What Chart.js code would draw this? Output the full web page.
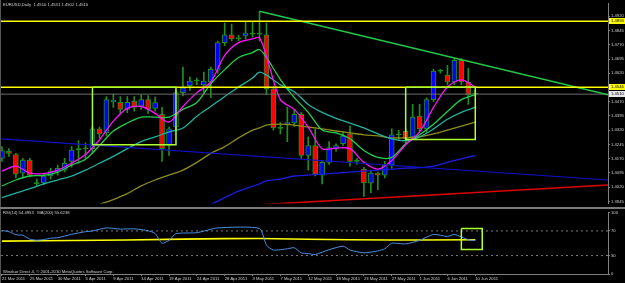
<!DOCTYPE html>
<html>
<head>
<meta charset="utf-8">
<script src="https://cdn.jsdelivr.net/npm/chart.js@4.4.1/dist/chart.umd.min.js"></script>
<style>
  html, body { margin: 0; padding: 0; background: #000; }
  #wrap { position: relative; width: 625px; height: 283px; background: #000; overflow: hidden; }
  #priceBox { position: absolute; left: 0; top: 0; width: 625px; height: 207px; }
  #sep { position: absolute; left: 0; top: 207px; width: 625px; height: 2px; background: #7a7a7a; }
  #rsiBox { position: absolute; left: 0; top: 209px; width: 625px; height: 74px; }
</style>
</head>
<body>
<div id="wrap">
  <div id="priceBox"><canvas id="priceChart"></canvas></div>
  <div id="sep"></div>
  <div id="rsiBox"><canvas id="rsiChart"></canvas></div>
</div>
<script>
// bottom axis labels, one every 4 bars
const tickBars = [0, 4, 8, 12, 16, 20, 24, 28, 32, 36, 40, 44, 48, 52, 56, 60, 64, 68];
const tickLabels = ['21 Mar 2011', '25 Mar 2011', '30 Mar 2011', '5 Apr 2011', '9 Apr 2011', '14 Apr 2011',
  '19 Apr 2011', '24 Apr 2011', '28 Apr 2011', '3 May 2011', '7 May 2011', '12 May 2011', '18 May 2011',
  '23 May 2011', '27 May 2011', '1 Jun 2011', '6 Jun 2011', '10 Jun 2011'];

// daily candles EURUSD
const opens = [1.4172, 1.4209, 1.4192, 1.4094, 1.4163, 1.4041, 1.4043, 1.4079, 1.4100, 1.4110,
  1.4156, 1.4218, 1.4221, 1.4223, 1.4327, 1.4306, 1.4470, 1.4467, 1.4430, 1.4473,
  1.4447, 1.4481, 1.4435, 1.4404, 1.4240, 1.4337, 1.4518, 1.4554, 1.4579, 1.4559,
  1.4574, 1.4636, 1.4781, 1.4822, 1.4801, 1.4817, 1.4828, 1.4826, 1.4822, 1.4538,
  1.4332, 1.4355, 1.4358, 1.4404, 1.4187, 1.4239, 1.4084, 1.4151, 1.4223, 1.4249,
  1.4301, 1.4156, 1.4115, 1.4043, 1.4094, 1.4084, 1.4136, 1.4296, 1.4316, 1.4285,
  1.4394, 1.4327, 1.4481, 1.4631, 1.4610, 1.4574, 1.4688, 1.4574, 1.4510];
const highs = [1.4234, 1.4223, 1.4198, 1.4172, 1.4172, 1.4063, 1.4089, 1.4120, 1.4136, 1.4172,
  1.4234, 1.4265, 1.4254, 1.4342, 1.4337, 1.4497, 1.4510, 1.4497, 1.4497, 1.4497,
  1.4507, 1.4502, 1.4495, 1.4440, 1.4337, 1.4530, 1.4652, 1.4600, 1.4595, 1.4626,
  1.4652, 1.4790, 1.4884, 1.4879, 1.4820, 1.4889, 1.4889, 1.4946, 1.4884, 1.4548,
  1.4360, 1.4440, 1.4430, 1.4414, 1.4285, 1.4327, 1.4160, 1.4260, 1.4249, 1.4311,
  1.4342, 1.4172, 1.4125, 1.4105, 1.4100, 1.4156, 1.4327, 1.4320, 1.4330, 1.4456,
  1.4456, 1.4490, 1.4641, 1.4641, 1.4662, 1.4697, 1.4697, 1.4647, 1.4531];
const lows = [1.4156, 1.4182, 1.4069, 1.4074, 1.4074, 1.4027, 1.4032, 1.4063, 1.4084, 1.4100,
  1.4125, 1.4146, 1.4172, 1.4198, 1.4280, 1.4290, 1.4440, 1.4404, 1.4412, 1.4420,
  1.4430, 1.4409, 1.4420, 1.4156, 1.4187, 1.4320, 1.4500, 1.4530, 1.4560, 1.4518,
  1.4492, 1.4620, 1.4765, 1.4790, 1.4790, 1.4800, 1.4810, 1.4790, 1.4507, 1.4320,
  1.4300, 1.4260, 1.4340, 1.4172, 1.4110, 1.4079, 1.4038, 1.4140, 1.4210, 1.4240,
  1.4131, 1.4140, 1.3971, 1.3991, 1.4007, 1.4069, 1.4120, 1.4270, 1.4255, 1.4270,
  1.4310, 1.4310, 1.4470, 1.4620, 1.4560, 1.4560, 1.4560, 1.4456, 1.4502];
const closes = [1.4213, 1.4198, 1.4089, 1.4163, 1.4084, 1.4039, 1.4079, 1.4105, 1.4120, 1.4146,
  1.4215, 1.4220, 1.4224, 1.4327, 1.4301, 1.4481, 1.4478, 1.4430, 1.4467, 1.4440,
  1.4481, 1.4430, 1.4465, 1.4223, 1.4327, 1.4518, 1.4543, 1.4579, 1.4581, 1.4579,
  1.4641, 1.4781, 1.4822, 1.4801, 1.4803, 1.4832, 1.4826, 1.4829, 1.4538, 1.4332,
  1.4330, 1.4360, 1.4404, 1.4187, 1.4239, 1.4089, 1.4151, 1.4229, 1.4239, 1.4290,
  1.4156, 1.4158, 1.4043, 1.4094, 1.4084, 1.4136, 1.4296, 1.4300, 1.4275, 1.4389,
  1.4327, 1.4481, 1.4631, 1.4633, 1.4574, 1.4688, 1.4574, 1.4507, 1.4510];

// moving averages, read at these bars
const sampleBars = [0, 2, 4, 6, 8, 10, 12, 14, 16, 18, 20, 22, 24, 26, 28, 30, 32, 34, 36, 37,
  38, 40, 42, 44, 46, 48, 50, 52, 54, 56, 58, 60, 62, 64, 66, 68];
const maFast = [1.4105, 1.4131, 1.4094, 1.4092, 1.4110, 1.4146, 1.4192, 1.4270, 1.4368, 1.4435,
  1.4445, 1.4409, 1.4363, 1.4445, 1.4518, 1.4574, 1.4714, 1.4781, 1.4801, 1.4806,
  1.4708, 1.4481, 1.4430, 1.4337, 1.4223, 1.4226, 1.4223, 1.4151, 1.4115, 1.4161,
  1.4244, 1.4311, 1.4440, 1.4548, 1.4585, 1.4548];
const maMid = [1.4027, 1.4058, 1.4079, 1.4082, 1.4100, 1.4136, 1.4167, 1.4239, 1.4316, 1.4358,
  1.4389, 1.4389, 1.4389, 1.4430, 1.4466, 1.4564, 1.4639, 1.4703, 1.4729, 1.4745,
  1.4703, 1.4587, 1.4492, 1.4414, 1.4321, 1.4306, 1.4275, 1.4213, 1.4177, 1.4177,
  1.4249, 1.4296, 1.4352, 1.4419, 1.4481, 1.4507];
const maSlow = [1.3965, 1.3989, 1.4012, 1.4038, 1.4058, 1.4079, 1.4110, 1.4146, 1.4182, 1.4223,
  1.4260, 1.4285, 1.4311, 1.4332, 1.4394, 1.4445, 1.4498, 1.4548, 1.4595, 1.4626,
  1.4610, 1.4559, 1.4523, 1.4456, 1.4414, 1.4383, 1.4358, 1.4332, 1.4301, 1.4275,
  1.4265, 1.4285, 1.4327, 1.4378, 1.4414, 1.4440];
const maLong = [null, null, null, null, null, null, null, 1.3929, 1.3955, 1.3986,
  1.4027, 1.4058, 1.4084, 1.4110, 1.4151, 1.4198, 1.4234, 1.4280, 1.4321, 1.4332,
  1.4347, 1.4352, 1.4347, 1.4337, 1.4327, 1.4316, 1.4306, 1.4296, 1.4290, 1.4280,
  1.4280, 1.4285, 1.4301, 1.4321, 1.4342, 1.4363];
const maTrend = [null, null, null, null, null, null, null, null, null, null,
  null, null, null, null, null, 1.3929, 1.3965, 1.3999, 1.4025, 1.4038,
  1.4053, 1.4063, 1.4079, 1.4084, 1.4089, 1.4094, 1.4100, 1.4105, 1.4110, 1.4115,
  1.4120, 1.4123, 1.4131, 1.4151, 1.4169, 1.4187];

// price axis
const priceTicks = [1.4920, 1.4845, 1.4770, 1.4695, 1.4620, 1.4545, 1.4470, 1.4395, 1.4320,
  1.4245, 1.4170, 1.4095, 1.4020, 1.3945];
const priceRange = [1.39344, 1.49871];
const barWindow = [-0.14, 87.07];

// objects drawn on the chart
const hLevels = [1.4894, 1.4546];
const bidPrice = 1.4510;
const trendGreen = [[37, 1.4946], [87.07, 1.4507]];
const trendBlue = [[-0.14, 1.4275], [87.07, 1.4058]];
const trendRed = [[37.5, 1.3929], [87.07, 1.4032]];
const boxes = [[13, 25, 1.4546, 1.4244], [58, 68, 1.4546, 1.4271]];
const priceTags = [1.4894, 1.4546, 1.4510];
const lastBar = ['1.4510', '1.4531', '1.4502', '1.4510'];

// RSI panel
const rsiBars = [0, 1, 2, 3, 4, 5, 6, 7, 8, 10, 12, 13, 15, 17, 19, 21, 22, 23, 24, 25, 28, 31, 37,
  38, 39, 41, 42, 43, 44, 45, 47, 49, 50, 52, 54, 55, 56, 58, 60, 62, 64, 65, 67, 68];
const rsiValues = [70.8, 68.8, 64, 63, 56.7, 55, 56, 58.3, 59, 64.5, 68.8, 70, 75, 73, 73.5, 70.3, 66,
  50, 54.7, 65.6, 67.2, 75, 74, 46.9, 39, 41, 42.7, 34.4, 33.3, 31.7, 39.5, 45.3, 39, 34.4, 37.5,
  41.1, 50, 48.9, 54.7, 64.5, 61, 64.5, 55.8, 54.5];
const rsiMaBars = [0, 6, 14, 18, 26, 32, 37, 44, 50, 56, 60, 68];
const rsiMaValues = [53.5, 54.0, 54.8, 55.3, 56.8, 57.5, 57.8, 56.6, 55.8, 55.3, 55.4, 55.6];
const rsiLevels = [70, 30];
const rsiTicks = [0, 30, 70, 100];
const rsiBox = [66, 69, 74, 40];

const textColor = '#cfcfcf';
const axisColor = '#808080';
const wickColor = '#1f8f1f';
const smallFont = { family: 'Liberation Sans', size: 4.2 };

function pts(bars, vals) {
    return bars.map((b, i) => ({ x: b, y: vals[i] })).filter(p => p.y !== null);
}

function lineSet(data, color, width, order, extra) {
    return Object.assign({
        type: 'line', data: data, borderColor: color, borderWidth: width,
        pointRadius: 0, fill: false, tension: 0, order: order
    }, extra || {});
}

function boxPts(b) {
    return [{ x: b[0], y: b[2] }, { x: b[1], y: b[2] }, { x: b[1], y: b[3] }, { x: b[0], y: b[3] }, { x: b[0], y: b[2] }];
}

const bgPlugin = {
    id: 'bg',
    beforeDraw(chart) {
        const c = chart.ctx;
        c.save();
        c.fillStyle = '#000';
        c.fillRect(0, 0, chart.width, chart.height);
        c.strokeStyle = '#555';
        c.lineWidth = 1;
        c.beginPath();
        c.moveTo(0.5, 0);
        c.lineTo(0.5, chart.height);
        c.stroke();
        c.restore();
    }
};

const priceText = {
    id: 'priceText',
    afterDraw(chart) {
        const c = chart.ctx;
        const y = chart.scales.y;
        c.save();
        c.font = '4.2px "Liberation Sans"';
        c.textBaseline = 'middle';
        c.fillStyle = textColor;
        c.fillText('EURUSD,Daily  ' + lastBar.join(' '), 3, 5);
        // price tags on the right axis
        const bgs = ['#ffff00', '#ffff00', '#e8e8e8'];
        priceTags.forEach((v, i) => {
            const py = Math.round(y.getPixelForValue(v));
            c.fillStyle = bgs[i];
            c.fillRect(chart.chartArea.right + 1, py - 3, 16, 6);
            c.fillStyle = '#000';
            c.fillText(v.toFixed(4), chart.chartArea.right + 3, py);
        });
        c.restore();
    }
};

const rsiText = {
    id: 'rsiText',
    afterDraw(chart) {
        const c = chart.ctx;
        c.save();
        c.font = '4.2px "Liberation Sans"';
        c.textBaseline = 'middle';
        c.fillStyle = textColor;
        c.fillText('RSI(14) 54.4953   MA(200) 55.6238', 3, 3.5);
        c.fillText('Windsor Direct 4, \u00a9 2001-2010 MetaQuotes Software Corp.', 3, 62.5);
        c.restore();
    }
};

const bodyData = opens.map((o, i) => ({ x: i, y: [o, closes[i]] }));
const wickData = opens.map((o, i) => ({ x: i, y: [lows[i], highs[i]] }));

function bodyColor(ctx) {
    const i = ctx.dataIndex;
    if (i === undefined) return '#0000ff';
    const d = closes[i] - opens[i];
    if (Math.abs(d) < 0.0004) return wickColor;
    return d > 0 ? '#0000ff' : '#ff0000';
}

new Chart(document.getElementById('priceChart'), {
    type: 'bar',
    data: {
        datasets: [
            { type: 'bar', data: wickData, backgroundColor: wickColor, borderWidth: 0, barThickness: 1, grouped: false, order: 20 },
            { type: 'bar', data: bodyData, backgroundColor: bodyColor, borderColor: wickColor, borderWidth: 1,
              borderSkipped: false, barThickness: 5, minBarLength: 1, grouped: false, order: 19 },
            lineSet(pts(sampleBars, maLong), '#8c8c1c', 1.3, 10, { tension: 0.3 }),
            lineSet(pts(sampleBars, maTrend), '#1c1ce0', 1.3, 10, { tension: 0.3 }),
            lineSet(pts(sampleBars, maSlow), '#20b2a0', 1.3, 9, { tension: 0.3 }),
            lineSet(pts(sampleBars, maMid), '#22d04a', 1.3, 8, { tension: 0.3 }),
            lineSet(pts(sampleBars, maFast), '#ff10ff', 1.3, 7, { tension: 0.3 }),
            lineSet([{ x: barWindow[0], y: bidPrice }, { x: barWindow[1], y: bidPrice }], '#6e6e6e', 1, 6),
            lineSet(trendBlue.map(p => ({ x: p[0], y: p[1] })), '#1010c8', 1.2, 5),
            lineSet(trendRed.map(p => ({ x: p[0], y: p[1] })), '#e00000', 1.5, 5),
            lineSet(trendGreen.map(p => ({ x: p[0], y: p[1] })), '#22c84a', 1.5, 5),
            ...hLevels.map(v => lineSet([{ x: barWindow[0], y: v }, { x: barWindow[1], y: v }], '#ffff00', 1.5, 4)),
            ...boxes.map(b => lineSet(boxPts(b), '#adff2f', 1.5, 3))
        ]
    },
    options: {
        responsive: true,
        maintainAspectRatio: false,
        animation: false,
        events: [],
        layout: { padding: { left: 1, top: 2, right: 0, bottom: 1 } },
        plugins: { legend: { display: false }, tooltip: { enabled: false } },
        scales: {
            x: { type: 'linear', display: false, min: barWindow[0], max: barWindow[1], offset: false },
            y: {
                position: 'right',
                min: priceRange[0],
                max: priceRange[1],
                beginAtZero: false,
                afterBuildTicks: s => { s.ticks = priceTicks.map(v => ({ value: v })); },
                afterFit: s => { s.width = 17; },
                ticks: { color: textColor, font: smallFont, padding: 1, callback: v => v.toFixed(4) },
                grid: { drawOnChartArea: false, tickLength: 2, color: axisColor },
                border: { color: axisColor }
            }
        }
    },
    plugins: [bgPlugin, priceText]
});

new Chart(document.getElementById('rsiChart'), {
    type: 'line',
    data: {
        datasets: [
            ...rsiLevels.map(v => lineSet([{ x: barWindow[0], y: v }, { x: barWindow[1], y: v }], '#7a7a7a', 1, 5, { borderDash: [2, 3] })),
            lineSet(pts(rsiMaBars, rsiMaValues), '#ffff00', 1.6, 4),
            lineSet(pts(rsiBars, rsiValues), '#4a90e2', 1, 3, { tension: 0.2 }),
            lineSet(boxPts(rsiBox), '#adff2f', 1.5, 2)
        ]
    },
    options: {
        responsive: true,
        maintainAspectRatio: false,
        animation: false,
        events: [],
        layout: { padding: { left: 1, top: 1, right: 0, bottom: 0 } },
        plugins: { legend: { display: false }, tooltip: { enabled: false } },
        scales: {
            x: {
                type: 'linear', min: barWindow[0], max: barWindow[1], offset: false,
                afterBuildTicks: s => { s.ticks = tickBars.map(v => ({ value: v })); },
                afterFit: s => { s.height = 9; },
                ticks: { color: textColor, font: smallFont, align: 'start', maxRotation: 0, autoSkip: false, padding: 0,
                         callback: (v, i) => tickLabels[i] },
                grid: { drawOnChartArea: false, tickLength: 2, color: axisColor },
                border: { color: axisColor }
            },
            y: {
                position: 'right', min: 0, max: 100,
                afterBuildTicks: s => { s.ticks = rsiTicks.map(v => ({ value: v })); },
                afterFit: s => { s.width = 17; },
                ticks: { color: textColor, font: smallFont, padding: 1 },
                grid: { drawOnChartArea: false, tickLength: 2, color: axisColor },
                border: { color: axisColor }
            }
        }
    },
    plugins: [bgPlugin, rsiText]
});
</script>
</body>
</html>
